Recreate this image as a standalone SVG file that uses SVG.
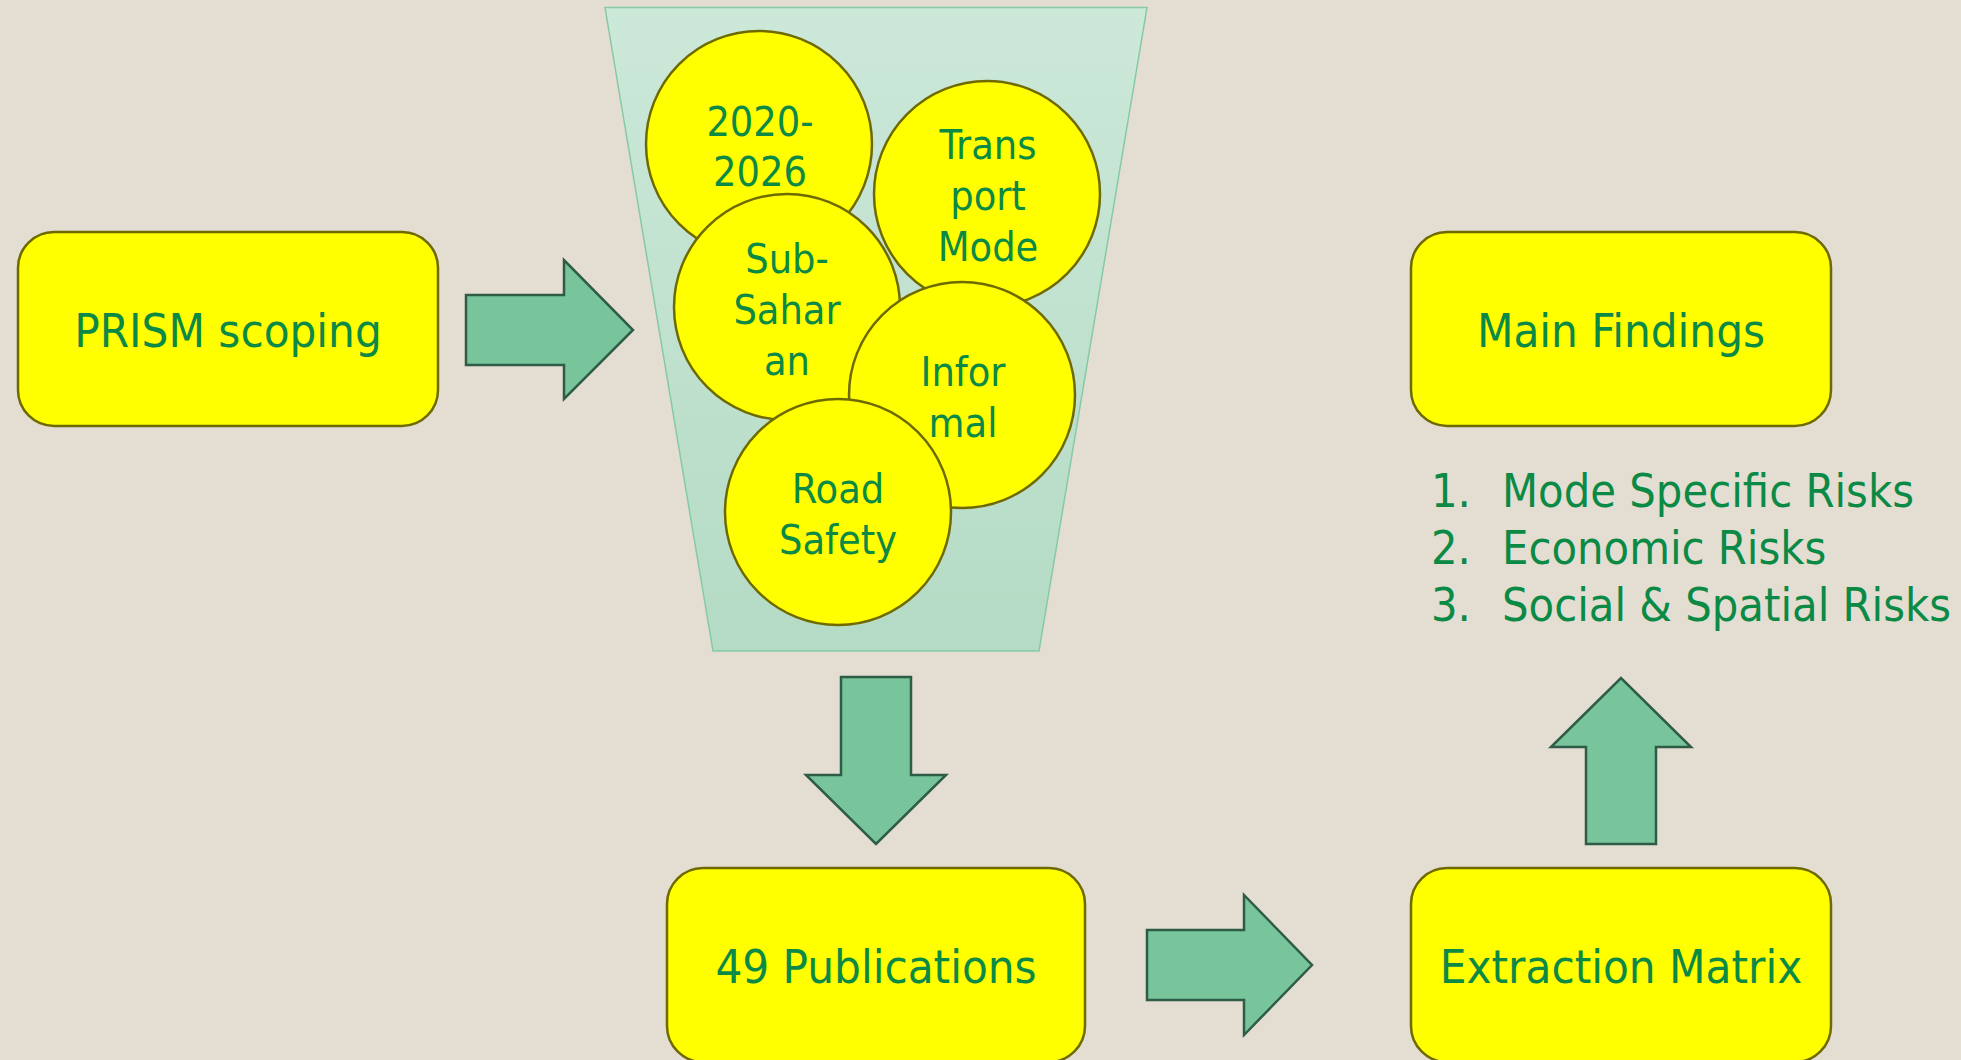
<svg xmlns="http://www.w3.org/2000/svg" width="1961" height="1060" viewBox="0 0 1961 1060">
<defs>
<linearGradient id="funnelGrad" x1="0" y1="0" x2="0" y2="1">
<stop offset="0" stop-color="#cce8d9"/>
<stop offset="1" stop-color="#b4dbc5"/>
</linearGradient>
</defs>
<style>
.box{fill:#ffff00;stroke:#6e6a00;stroke-width:2.5}
.circ{fill:#ffff00;stroke:#6e6a00;stroke-width:2.5}
.arrow{fill:#78c59c;stroke:#2e5c47;stroke-width:2.5;stroke-linejoin:miter}
.t{font-family:"DejaVu Sans Condensed","DejaVu Sans",sans-serif;font-stretch:condensed;fill:#0b8a45;text-anchor:middle}
.big{font-size:47px}
.small{font-size:41px}
.list{font-family:"DejaVu Sans Condensed","DejaVu Sans",sans-serif;font-stretch:condensed;fill:#0b8a45;font-size:46.5px}
</style>
<rect x="0" y="0" width="1961" height="1060" fill="#e3ddd2"/>

<g id="funnel">
<polygon points="605,7.5 1147,7.5 1039,651 713,651" fill="url(#funnelGrad)" stroke="#86caa5" stroke-width="1.5"/>
</g>

<g id="circle-2020-2026">
<circle class="circ" cx="759" cy="144" r="113"/>
<text class="t small" x="760" y="136">2020-</text>
<text class="t small" x="760" y="186">2026</text>
</g>
<g id="circle-transport-mode">
<circle class="circ" cx="987" cy="194" r="113"/>
<text class="t small" x="988" y="159">Trans</text>
<text class="t small" x="988" y="210">port</text>
<text class="t small" x="988" y="261">Mode</text>
</g>
<g id="circle-sub-saharan">
<circle class="circ" cx="787" cy="307" r="113"/>
<text class="t small" x="787" y="273">Sub-</text>
<text class="t small" x="787" y="324">Sahar</text>
<text class="t small" x="787" y="375">an</text>
</g>
<g id="circle-informal">
<circle class="circ" cx="962" cy="395" r="113"/>
<text class="t small" x="963" y="386">Infor</text>
<text class="t small" x="963" y="437">mal</text>
</g>
<g id="circle-road-safety">
<circle class="circ" cx="838" cy="512" r="113"/>
<text class="t small" x="838" y="503">Road</text>
<text class="t small" x="838" y="554">Safety</text>
</g>

<g id="prism-scoping">
<rect class="box" x="18" y="232" width="420" height="194" rx="36" ry="36"/>
<text class="t big" x="228" y="347">PRISM scoping</text>
</g>
<g id="main-findings">
<rect class="box" x="1411" y="232" width="420" height="194" rx="36" ry="36"/>
<text class="t big" x="1621" y="347">Main Findings</text>
</g>
<g id="findings-list">
<text class="list" x="1431" y="507">1.</text>
<text class="list" x="1502" y="507">Mode Specific Risks</text>
<text class="list" x="1431" y="564">2.</text>
<text class="list" x="1502" y="564">Economic Risks</text>
<text class="list" x="1431" y="621">3.</text>
<text class="list" x="1502" y="621">Social &amp; Spatial Risks</text>
</g>
<g id="publications">
<rect class="box" x="667" y="868" width="418" height="194" rx="36" ry="36"/>
<text class="t big" x="876" y="983">49 Publications</text>
</g>
<g id="extraction-matrix">
<rect class="box" x="1411" y="868" width="420" height="194" rx="36" ry="36"/>
<text class="t big" x="1621" y="983">Extraction Matrix</text>
</g>

<g id="connectors">
<polygon class="arrow" points="466,295 564,295 564,260 633,330 564,399 564,365 466,365"/>
<polygon class="arrow" points="841,677 911,677 911,775 946,775 876,844 806,775 841,775"/>
<polygon class="arrow" points="1147,930 1244,930 1244,895 1312,965 1244,1035 1244,1000 1147,1000"/>
<polygon class="arrow" points="1586,844 1586,747 1551,747 1621,678 1691,747 1656,747 1656,844"/>
</g>
</svg>
